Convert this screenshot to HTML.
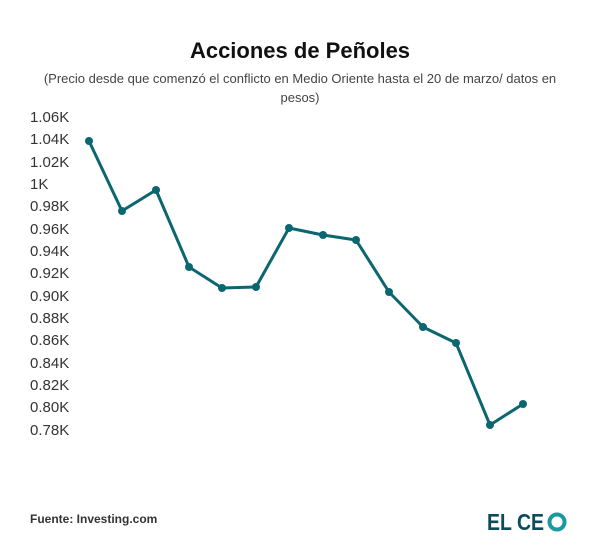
<!DOCTYPE html>
<html><head><meta charset="utf-8"><style>
body{margin:0;background:#fff;width:600px;height:550px;overflow:hidden;font-family:"Liberation Sans",sans-serif}
</style></head><body>
<svg width="600" height="550" xmlns="http://www.w3.org/2000/svg" font-family="Liberation Sans, sans-serif">
<text x="300" y="58" text-anchor="middle" font-size="22" font-weight="bold" fill="#111">Acciones de Peñoles</text>
<text x="300" y="83" text-anchor="middle" font-size="13" fill="#444">(Precio desde que comenzó el conflicto en Medio Oriente hasta el 20 de marzo/ datos en</text>
<text x="300" y="102" text-anchor="middle" font-size="13" fill="#444">pesos)</text>
<g font-size="15" fill="#333">
<text x="30" y="122">1.06K</text><text x="30" y="144">1.04K</text><text x="30" y="167">1.02K</text><text x="30" y="189">1K</text><text x="30" y="211">0.98K</text><text x="30" y="234">0.96K</text><text x="30" y="256">0.94K</text><text x="30" y="278">0.92K</text><text x="30" y="301">0.90K</text><text x="30" y="323">0.88K</text><text x="30" y="345">0.86K</text><text x="30" y="368">0.84K</text><text x="30" y="390">0.82K</text><text x="30" y="412">0.80K</text><text x="30" y="435">0.78K</text>
</g>
<polyline fill="none" stroke="#0b6670" stroke-width="3" stroke-linejoin="round" points="89,141 122,211 156,190 189,267 222,288 256,287 289,228 323,235 356,240 389,292 423,327 456,343 490,425 523,404"/>
<g fill="#0b6670">
<circle cx="89" cy="141" r="4"/><circle cx="122" cy="211" r="4"/><circle cx="156" cy="190" r="4"/><circle cx="189" cy="267" r="4"/><circle cx="222" cy="288" r="4"/><circle cx="256" cy="287" r="4"/><circle cx="289" cy="228" r="4"/><circle cx="323" cy="235" r="4"/><circle cx="356" cy="240" r="4"/><circle cx="389" cy="292" r="4"/><circle cx="423" cy="327" r="4"/><circle cx="456" cy="343" r="4"/><circle cx="490" cy="425" r="4"/><circle cx="523" cy="404" r="4"/>
</g>
<text x="30" y="523" font-size="12" font-weight="bold" fill="#333">Fuente: Investing.com</text>
<text x="487" y="530" font-size="23" font-weight="bold" fill="#0d4a5c" textLength="57" lengthAdjust="spacingAndGlyphs">EL CE</text>
<circle cx="557" cy="522" r="7.5" fill="none" stroke="#1a9aa0" stroke-width="4"/>
</svg>
</body></html>
